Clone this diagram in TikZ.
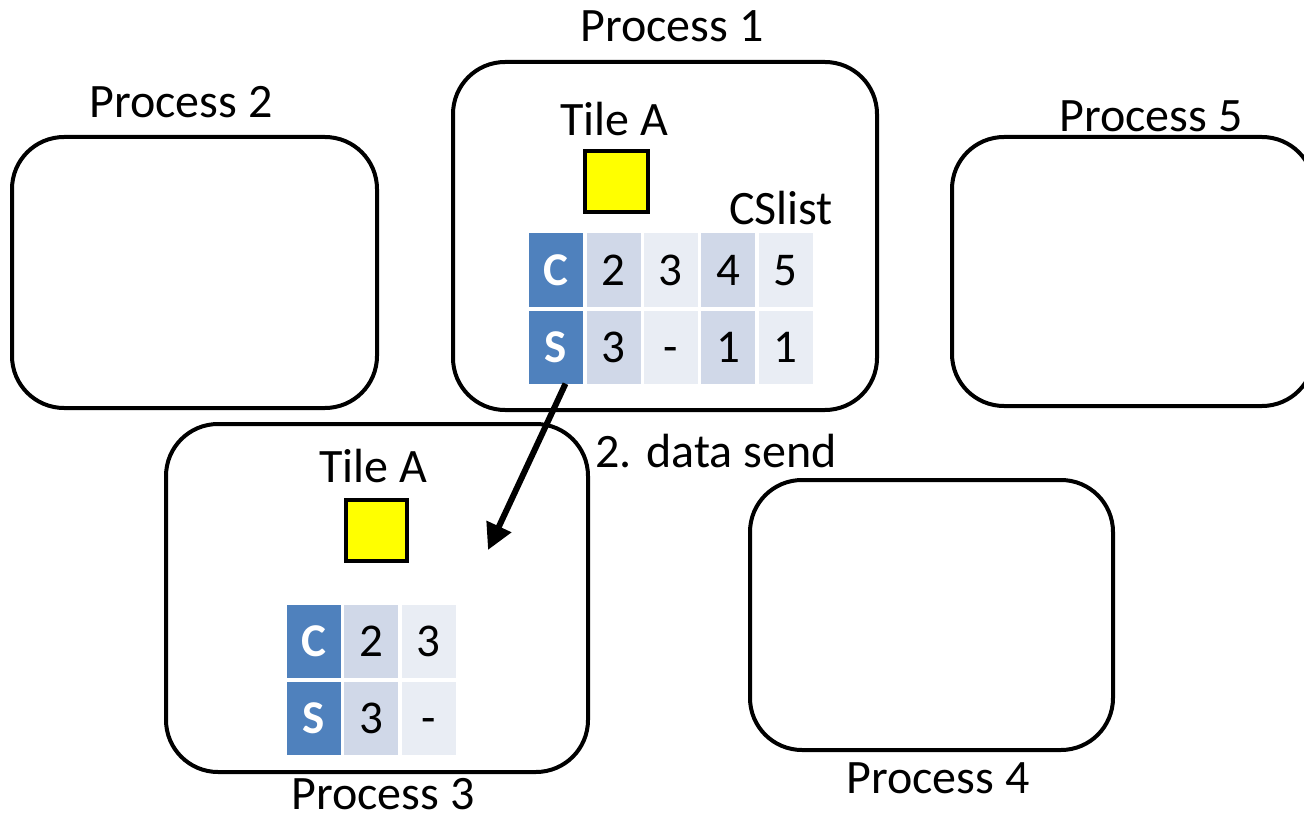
\documentclass[tikz,border=0pt]{standalone}
\usepackage{fontspec}
\setmainfont{Carlito}
\usetikzlibrary{arrows.meta}
\definecolor{hdrblue}{HTML}{4F81BD}
\definecolor{cellmid}{HTML}{D0D8E8}
\definecolor{celllight}{HTML}{E9EDF4}
\definecolor{tileyellow}{HTML}{FFFF00}
\tikzset{
  procbox/.style={draw=black, line width=4pt, rounded corners=52pt, inner sep=0pt},
  lbl/.style={font=\fontsize{48}{56}\selectfont, inner sep=0pt, anchor=center},
  tile/.style={draw=black, line width=4pt, fill=tileyellow, minimum width=60pt, minimum height=60pt, inner sep=0pt},
  cell/.style={minimum width=54pt, minimum height=73pt, inner sep=0pt,
    font=\fontsize{47}{54}\selectfont, execute at begin node=\vphantom{0}},
  hdr/.style={cell, fill=hdrblue, text=white, font=\fontsize{47}{54}\selectfont\bfseries},
  mid/.style={cell, fill=cellmid},
  light/.style={cell, fill=celllight},
  sendarrow/.style={line width=6pt, -{Triangle[length=26pt, width=26pt]}}
}
\begin{document}
\begin{tikzpicture}[x=1pt, y=-1pt]
\useasboundingbox (0,0) rectangle (1304,813);
\begin{scope}
\clip (0,0) rectangle (1304,813);

% process boxes
\node[procbox, minimum width=424pt, minimum height=348pt] (p1) at (665,236) {};
\node[procbox, minimum width=365pt, minimum height=271pt] (p2) at (194.5,272.5) {};
\node[procbox, minimum width=362pt, minimum height=269pt] (p5) at (1133,271.5) {};
\node[procbox, minimum width=422pt, minimum height=348pt] (p3) at (377,598) {};
\node[procbox, minimum width=363pt, minimum height=270pt] (p4) at (931.5,615) {};
\end{scope}

% process titles
\node[lbl] (t1) at (672,26) {Process 1};
\node[lbl] (t2) at (181,102) {Process 2};
\node[lbl] (t5) at (1151,116) {Process 5};
\node[lbl] (t3) at (383,794) {Process 3};
\node[lbl] (t4) at (938,778) {Process 4};

% process 1 contents
\node[lbl] (tileA1) at (614,119) {Tile A};
\node[tile, minimum width=63pt, minimum height=61pt] (sq1) at (616.5,181.5) {};
\node[lbl] (cslist) at (781,208) {CSlist};

\node[hdr]   (c0) at (555.5,270) {C};
\node[mid]   (c1) at (613.5,270) {2};
\node[light] (c2) at (670.5,270) {3};
\node[mid]   (c3) at (728,270)   {4};
\node[light] (c4) at (785.5,270) {5};
\node[hdr]   (s0) at (555.5,347) {S};
\node[mid]   (s1) at (613.5,347) {3};
\node[light] (s2) at (670.5,347) {-};
\node[mid]   (s3) at (728,347)   {1};
\node[light] (s4) at (785.5,347) {1};

% process 3 contents
\node[lbl] (tileA3) at (373,466) {Tile A};
\node[tile, minimum width=61pt, minimum height=61pt] (sq3) at (376.5,530.5) {};

\node[hdr]   (d0) at (314,641.5) {C};
\node[mid]   (d1) at (371,641.5) {2};
\node[light] (d2) at (428.5,641.5) {3};
\node[hdr]   (e0) at (314,718.5) {S};
\node[mid]   (e1) at (371,718.5) {3};
\node[light] (e2) at (428.5,718.5) {-};

% data transfer
\node[lbl] (send) at (716,451) {2. data send};
\coordinate (dst) at (488,550);
\draw[sendarrow] ([xshift=10pt]s0.south) -- (dst);
\end{tikzpicture}
\end{document}
